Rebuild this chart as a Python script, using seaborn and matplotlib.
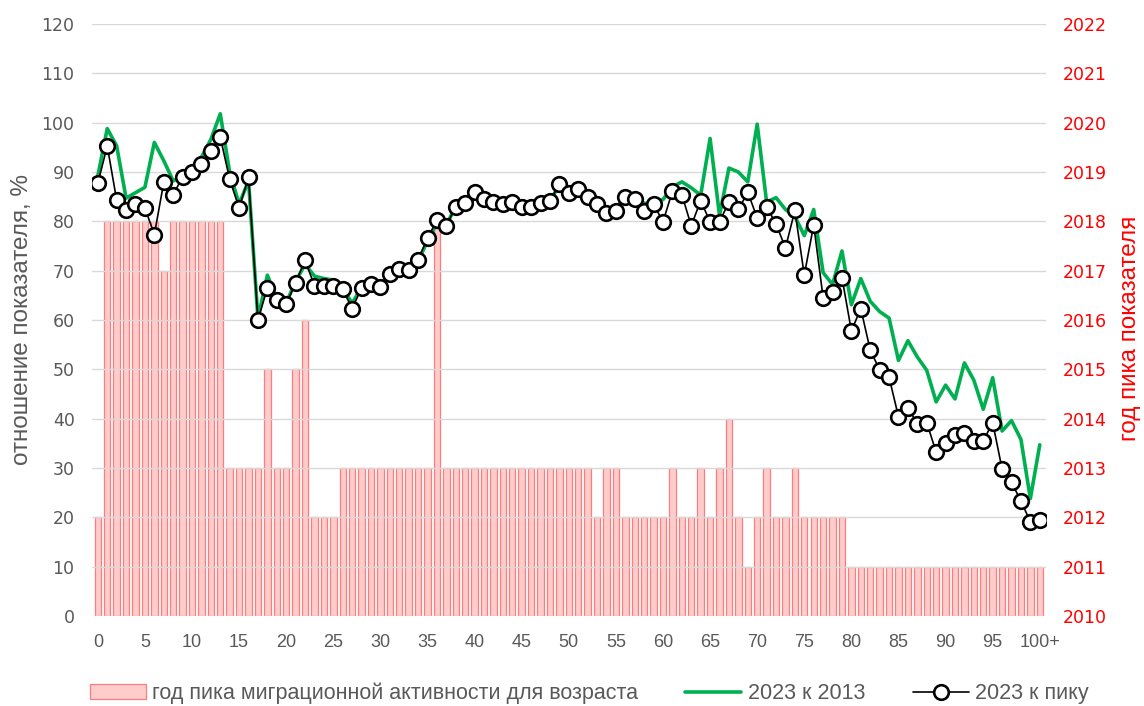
import numpy as np
import pandas as pd
import matplotlib
matplotlib.use("Agg")
import matplotlib.pyplot as plt
import seaborn as sns

# ---------------- data ----------------
ages = list(range(101))
x_tick_pos = list(range(0, 101, 5))
x_tick_labels = [str(v) for v in range(0, 100, 5)] + ["100+"]

peak_year = ([2012] + [2018] * 6 + [2017] + [2018] * 6 + [2013] * 4 + [2015]
             + [2013] * 2 + [2015, 2016] + [2012] * 3 + [2013] * 10 + [2018]
             + [2013] * 16 + [2012] + [2013] * 2 + [2012] * 5 + [2013]
             + [2012] * 2 + [2013, 2012, 2013, 2014, 2012, 2011, 2012, 2013]
             + [2012] * 2 + [2013] + [2012] * 5 + [2011] * 21)

ratio_2013 = [89.2, 98.8, 95.3, 84.7, 85.8, 86.9, 96.0, 92.3, 88.2, 89.2,
              90.3, 93.0, 96.6, 101.8, 89.9, 83.5, 88.2, 60.3, 69.1, 64.3,
              63.5, 67.8, 71.3, 68.9, 68.4, 68.1, 66.4, 63.4, 66.6, 67.3,
              66.8, 69.5, 70.5, 70.3, 72.0, 76.0, 79.6, 79.3, 83.0, 83.8,
              85.8, 84.6, 84.0, 83.6, 84.0, 83.0, 83.1, 83.7, 84.2, 87.3,
              85.8, 86.5, 85.0, 83.6, 81.8, 82.4, 85.2, 85.5, 83.6, 83.9,
              84.4, 87.0, 88.0, 86.8, 85.3, 96.8, 81.2, 90.8, 90.0, 88.0,
              99.7, 83.9, 84.8, 82.4, 81.0, 77.1, 82.4, 69.6, 67.2, 74.0,
              63.1, 68.4, 63.8, 61.7, 60.4, 51.8, 55.8, 52.5, 49.8, 43.4,
              46.8, 44.0, 51.3, 47.8, 41.9, 48.3, 37.5, 39.6, 35.8, 23.8,
              34.7]

ratio_peak = [87.7, 95.3, 84.3, 82.3, 83.6, 82.7, 77.3, 87.9, 85.4, 89.0,
              90.1, 91.7, 94.3, 97.1, 88.5, 82.7, 88.9, 60.0, 66.5, 64.0,
              63.2, 67.5, 72.2, 66.9, 66.9, 66.9, 66.2, 62.3, 66.5, 67.2,
              66.7, 69.4, 70.4, 70.2, 72.2, 76.6, 80.2, 79.1, 83.0, 83.7,
              85.9, 84.6, 83.9, 83.6, 84.0, 82.9, 83.0, 83.7, 84.1, 87.5,
              85.8, 86.5, 85.0, 83.5, 81.7, 82.0, 85.0, 84.5, 82.0, 83.5,
              79.9, 86.1, 85.4, 79.1, 84.2, 79.9, 79.9, 83.9, 82.4, 85.9,
              80.7, 82.9, 79.5, 74.6, 82.2, 69.1, 79.3, 64.5, 65.7, 68.6,
              57.8, 62.3, 53.9, 49.9, 48.4, 40.4, 42.2, 39.0, 39.2, 33.2,
              35.1, 36.6, 37.0, 35.5, 35.5, 39.2, 29.8, 27.1, 23.3, 19.1,
              19.5]

left_ticks = list(range(0, 121, 10))
year_ticks = list(range(2010, 2023))

label_bars = "год пика миграционной активности для возраста"
label_2013 = "2023 к 2013"
label_peak = "2023 к пику"

df = pd.DataFrame({"age": ages, "r2013": ratio_2013, "rpeak": ratio_peak,
                   "peak": peak_year})

# ---------------- style ----------------
sns.set_theme(style="white")
plt.rcParams["font.family"] = ["DejaVu Sans"]
sans = ["Liberation Sans", "DejaVu Sans"]

GRAY = "#595959"
RED = "#FF0000"
GREEN = "#00B050"

fig = plt.figure(figsize=(11.44, 7.06), dpi=100)
ax = fig.add_axes([0.0804, 0.1275, 0.8336, 0.8385])
ax2 = ax.twinx()

# bars on the right (year) axis
bar_heights = df["peak"] - year_ticks[0]
bars = ax2.bar(df["age"], bar_heights, bottom=year_ticks[0], width=0.68,
               color="#FFCCCC", edgecolor="#FF7C7C", linewidth=0.9)
ax2.set_ylim(year_ticks[0], year_ticks[-1])
ax2.set_yticks(year_ticks)
ax2.set_yticklabels([str(y) for y in year_ticks], color=RED, fontsize=12.5)
ax2.tick_params(axis="y", length=0, pad=12)
ax2.set_ylabel("год пика показателя", color=RED, fontsize=17.5,
               family=sans, labelpad=6)
ax2.yaxis.set_label_coords(1.077, 0.485)

# lines on the left (%) axis, drawn above the bars
ax.set_zorder(ax2.get_zorder() + 1)
ax.patch.set_visible(False)
ax.grid(axis="y", color="#D9D9D9", linewidth=1.0, zorder=0)
ax.set_axisbelow(True)

sns.lineplot(data=df, x="age", y="r2013", ax=ax, color=GREEN, linewidth=2.6,
             label=label_2013, legend=False, zorder=3)
sns.lineplot(data=df, x="age", y="rpeak", ax=ax, color="black", linewidth=1.2,
             marker="o", markersize=10.5, markerfacecolor="white",
             markeredgecolor="black", markeredgewidth=1.9,
             label=label_peak, legend=False, zorder=4)

ax.set_xlim(-0.62, 100.62)
ax.set_ylim(left_ticks[0], left_ticks[-1])
ax.set_yticks(left_ticks)
ax.set_yticklabels([str(v) for v in left_ticks], color=GRAY, fontsize=12.5)
ax.set_xticks(x_tick_pos)
ax.set_xticklabels(x_tick_labels, color=GRAY, fontsize=13, family=sans)
ax.tick_params(axis="y", length=0, pad=12.5)
ax.tick_params(axis="x", length=0, pad=13)
ax.set_xlabel("")
ax.set_ylabel("отношение показателя, %", color=GRAY, fontsize=17.5,
              family=sans, labelpad=6)

for a in (ax, ax2):
    for s in a.spines.values():
        s.set_visible(False)

handles = [bars, ax.lines[0], ax.lines[1]]
labels = [label_bars, label_2013, label_peak]
fig.legend(handles, labels, loc="lower center", ncol=3, frameon=False,
           bbox_to_anchor=(0.515, -0.025), prop={"family": sans, "size": 15.5},
           labelcolor=GRAY, handlelength=2.6, handletextpad=0.3,
           columnspacing=2.2)

fig.savefig("out.png", dpi=100)
